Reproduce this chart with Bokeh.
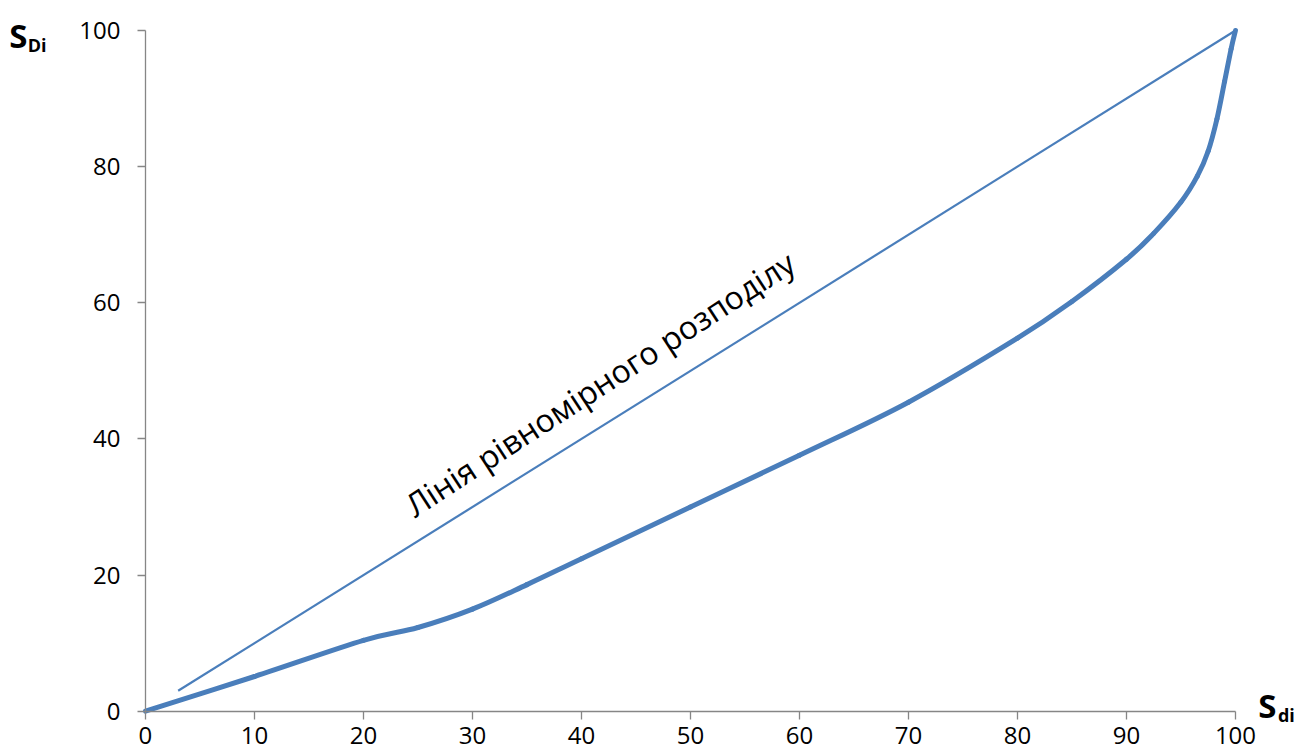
from bokeh.plotting import figure
from bokeh.models import Range1d, Label, FixedTicker
from bokeh.embed import file_html
from bokeh.resources import INLINE

# Lorenz curve data
lorenz_x = [0, 10, 20, 25, 30, 35, 40, 50, 60, 70, 80, 85, 90, 92.5, 95, 96.5, 97.5, 98.3, 99.0, 99.6, 100]
lorenz_y = [0, 5.1, 10.4, 12.3, 15.0, 18.6, 22.4, 30.0, 37.6, 45.4, 54.8, 60.2, 66.4, 70.2, 74.8, 78.6, 82.3, 87.0, 92.5, 97.3, 100]

# Line of uniform distribution
equal_x = [3, 100]
equal_y = [3, 100]

x_ticks = [0, 10, 20, 30, 40, 50, 60, 70, 80, 90, 100]
y_ticks = [0, 20, 40, 60, 80, 100]

FONT = "Open Sans"
BLUE = "#4a7ebb"
AXIS = "#868686"

W, H = 1300, 750
p = figure(width=W, height=H, output_backend="svg", toolbar_location=None,
           x_range=Range1d(-13.30, -13.30 + W / 10.9), y_range=Range1d(104.41 - H / 6.807, 104.41),
           min_border=0)
p.outline_line_color = None
p.xgrid.visible = False
p.ygrid.visible = False
p.background_fill_color = "white"
p.border_fill_color = "white"

for ax in (p.xaxis[0], p.yaxis[0]):
    ax.fixed_location = 0
    ax.bounds = (0, 100)
    ax.axis_line_color = AXIS
    ax.axis_line_width = 1.3
    ax.major_tick_line_color = AXIS
    ax.major_tick_line_width = 1.3
    ax.major_tick_in = 0
    ax.major_tick_out = 8
    ax.minor_tick_line_color = None
    ax.major_label_text_font = FONT
    ax.major_label_text_font_size = "24px"
    ax.major_label_text_color = "black"

p.xaxis[0].ticker = FixedTicker(ticks=x_ticks)
p.yaxis[0].ticker = FixedTicker(ticks=y_ticks)
p.xaxis[0].major_label_standoff = 8
p.yaxis[0].major_label_standoff = 17

p.line(equal_x, equal_y, line_color=BLUE, line_width=2.2)

# smoothed curve (Catmull-Rom through the read points, drawn as cubic Beziers)
n = len(lorenz_x)
x0, y0, x1, y1, cx0, cy0, cx1, cy1 = [], [], [], [], [], [], [], []
for i in range(n - 1):
    ip = max(i - 1, 0)
    inn = min(i + 2, n - 1)
    x0.append(lorenz_x[i]); y0.append(lorenz_y[i])
    x1.append(lorenz_x[i + 1]); y1.append(lorenz_y[i + 1])
    cx0.append(lorenz_x[i] + (lorenz_x[i + 1] - lorenz_x[ip]) / 6)
    cy0.append(lorenz_y[i] + (lorenz_y[i + 1] - lorenz_y[ip]) / 6)
    cx1.append(lorenz_x[i + 1] - (lorenz_x[inn] - lorenz_x[i]) / 6)
    cy1.append(lorenz_y[i + 1] - (lorenz_y[inn] - lorenz_y[i]) / 6)
p.bezier(x0=x0, y0=y0, x1=x1, y1=y1, cx0=cx0, cy0=cy0, cx1=cx1, cy1=cy1,
         line_color=BLUE, line_width=5, line_cap="round")

p.add_layout(Label(x=24.1, y=29.9, text="Лінія рівномірного розподілу", angle=33, angle_units="deg",
                   text_font=FONT, text_font_size="32px", text_color="black",
                   text_baseline="alphabetic", text_align="left"))

# Axis titles with subscripts
p.add_layout(Label(x=-12.5, y=99.3, text="S", text_font=FONT, text_font_style="bold",
                   text_font_size="33px", text_color="black", text_baseline="alphabetic"))
p.add_layout(Label(x=-10.8, y=97.8, text="Di", text_font=FONT, text_font_style="bold",
                   text_font_size="18px", text_color="black", text_baseline="alphabetic"))
p.add_layout(Label(x=102.1, y=0.8, text="S", text_font=FONT, text_font_style="bold",
                   text_font_size="33px", text_color="black", text_baseline="alphabetic"))
p.add_layout(Label(x=103.9, y=-0.6, text="di", text_font=FONT, text_font_style="bold",
                   text_font_size="18px", text_color="black", text_baseline="alphabetic"))

open("out.html", "w").write(file_html(p, INLINE))
